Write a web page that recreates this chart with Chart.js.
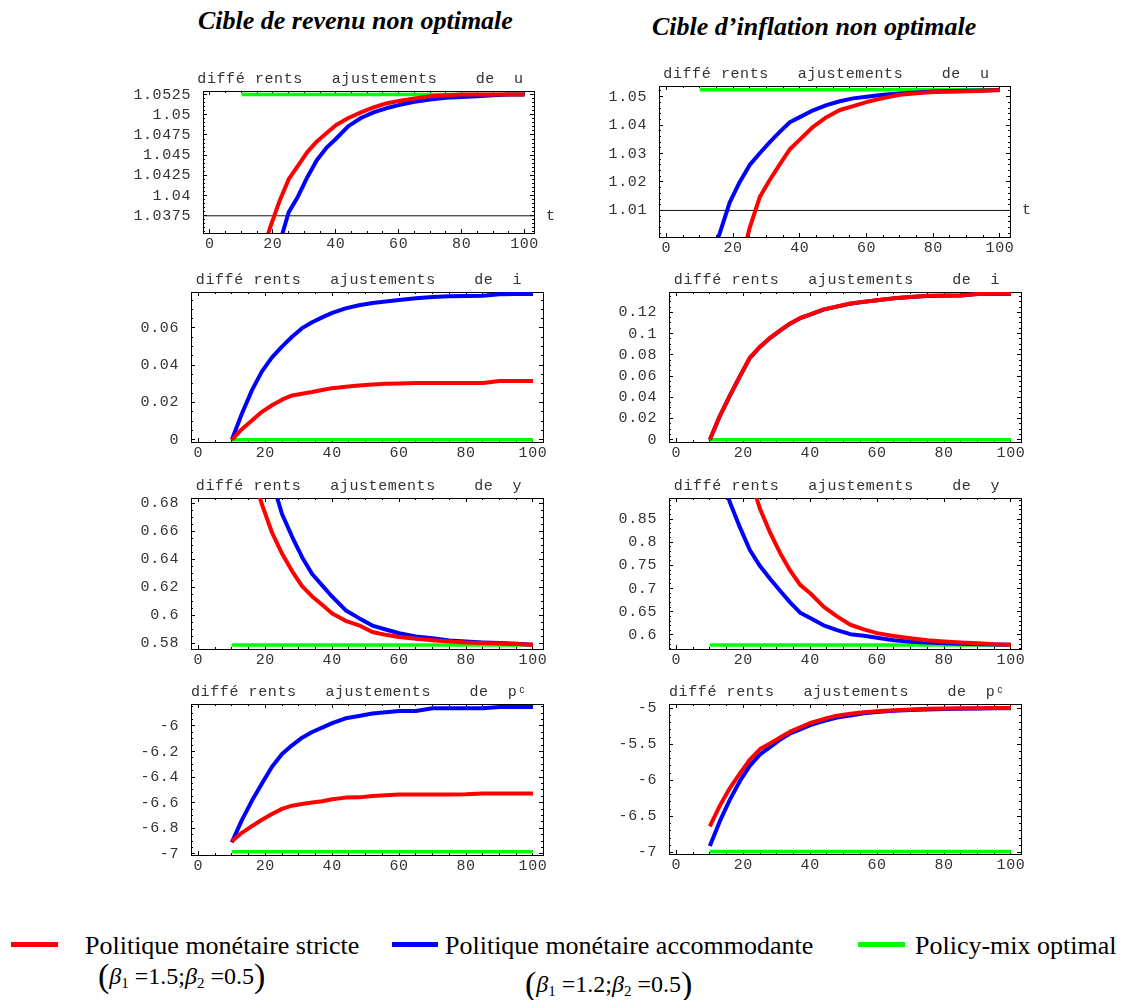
<!DOCTYPE html>
<html><head><meta charset="utf-8">
<script src="https://cdn.jsdelivr.net/npm/chart.js@4.4.0/dist/chart.umd.min.js"></script>
<style>
html,body{margin:0;padding:0;background:#fff;}
body{width:1128px;height:1000px;position:relative;overflow:hidden;}
canvas{position:absolute;}
.head{position:absolute;font:italic bold 26px "Liberation Serif",serif;white-space:nowrap;color:#000;line-height:1;}
.leg{position:absolute;font:26px "Liberation Serif",serif;white-space:nowrap;line-height:1;color:#000;}
.sw{position:absolute;height:5px;}
.beta{position:absolute;font:24px "Liberation Serif",serif;white-space:nowrap;line-height:1;color:#000;}
.beta .par{font-size:34px;vertical-align:-3px;}
.beta sub{font-size:15px;vertical-align:-4px;}
</style></head><body>
<div class="head" style="left:198px;top:8px">Cible de revenu non optimale</div>
<div class="head" style="left:652px;top:14px">Cible d’inflation non optimale</div>

<div class="sw" style="left:11px;top:942px;width:47px;background:#ff0000"></div>
<div class="leg" style="left:85px;top:933px">Politique monétaire stricte</div>
<div class="beta" style="left:98px;top:959px"><span class="par">(</span><i>β</i><sub>1</sub> =1.5;<i>β</i><sub>2</sub> =0.5<span class="par">)</span></div>

<div class="sw" style="left:392px;top:942px;width:46px;background:#0000ff"></div>
<div class="leg" style="left:445px;top:933px">Politique monétaire accommodante</div>
<div class="beta" style="left:525px;top:967px"><span class="par">(</span><i>β</i><sub>1</sub> =1.2;<i>β</i><sub>2</sub> =0.5<span class="par">)</span></div>

<div class="sw" style="left:858px;top:942px;width:47px;background:#00ff00"></div>
<div class="leg" style="left:915px;top:933px">Policy-mix optimal</div>

<script>
// ---------- DATA ----------
const t = [10,13,16,19,22,25,28,31,34,37,40,44,48,52,56,60,65,70,75,80,85,90,95,100];
const xTicks = [0,20,40,60,80,100];
const optT = [10,100];

// Cible de revenu non optimale (left column)
const u_rev_strict = [1.021,1.027,1.032,1.0359,1.0392,1.0420,1.0437,1.0454,1.0467,1.0477,1.0487,1.0496,1.0503,1.0509,1.0514,1.0517,1.0520,1.0523,1.0524,1.0525,1.0525,1.0525,1.0525,1.0525];
const u_rev_accom  = [1.012,1.018,1.024,1.029,1.0339,1.0379,1.0399,1.0423,1.0444,1.0459,1.0470,1.0486,1.0496,1.0503,1.0508,1.0512,1.0516,1.0519,1.0521,1.0522,1.0523,1.0524,1.0525,1.0525];
const u_rev_opt    = [1.0525,1.0525];
const u_rev_ticks  = [1.0375,1.04,1.0425,1.045,1.0475,1.05,1.0525];
const u_rev_axis   = 1.0375;

const i_rev_strict = [0,0.0057,0.0104,0.0150,0.0185,0.0215,0.0238,0.0247,0.0256,0.0267,0.0277,0.0284,0.0291,0.0296,0.0301,0.0302,0.0304,0.0304,0.0304,0.0304,0.0305,0.0315,0.0315,0.0315];
const i_rev_accom  = [0,0.014,0.0265,0.0367,0.0442,0.0500,0.0553,0.0599,0.0631,0.0657,0.0681,0.0705,0.0722,0.0734,0.0742,0.0750,0.0760,0.0766,0.0770,0.0771,0.0773,0.0781,0.0782,0.0782];
const i_rev_opt    = [0,0];
const i_rev_ticks  = [0,0.02,0.04,0.06];

const y_rev_strict = [0.78,0.735,0.703,0.679,0.659,0.644,0.6315,0.6207,0.6134,0.6074,0.6012,0.5960,0.5928,0.5880,0.5860,0.5844,0.5832,0.5822,0.5813,0.5806,0.5802,0.5798,0.5794,0.5790];
const y_rev_accom  = [0.84,0.795,0.755,0.722,0.696,0.6722,0.6561,0.6414,0.6294,0.6213,0.6132,0.6036,0.5979,0.5926,0.5898,0.5871,0.5849,0.5835,0.5820,0.5812,0.5806,0.5802,0.5796,0.5790];
const y_rev_opt    = [0.5788,0.5788];
const y_rev_ticks  = [0.58,0.6,0.62,0.64,0.66,0.68];

const pc_rev_strict = [-6.90,-6.835,-6.783,-6.733,-6.688,-6.648,-6.623,-6.610,-6.598,-6.588,-6.573,-6.560,-6.558,-6.547,-6.542,-6.535,-6.535,-6.535,-6.535,-6.534,-6.527,-6.527,-6.527,-6.527];
const pc_rev_accom  = [-6.91,-6.736,-6.585,-6.449,-6.319,-6.219,-6.151,-6.091,-6.047,-6.013,-5.978,-5.940,-5.922,-5.903,-5.892,-5.883,-5.882,-5.862,-5.861,-5.861,-5.861,-5.851,-5.851,-5.851];
const pc_rev_opt    = [-6.984,-6.984];
const pc_rev_ticks  = [-7,-6.8,-6.6,-6.4,-6.2,-6];

// Cible d'inflation non optimale (right column)
const u_inf_strict = [0.95,0.96,0.97,0.98,0.99,1.004,1.0147,1.0207,1.0262,1.0315,1.0349,1.0394,1.0428,1.0453,1.0467,1.0481,1.0495,1.0507,1.0512,1.0516,1.0517,1.0519,1.0521,1.0523];
const u_inf_accom  = [0.985,0.993,1.0019,1.0128,1.0200,1.026,1.0301,1.034,1.0376,1.0410,1.0428,1.0452,1.0470,1.0484,1.0494,1.0500,1.0507,1.0511,1.0515,1.0518,1.0520,1.0521,1.0522,1.0523];
const u_inf_opt    = [1.0524,1.0524];
const u_inf_ticks  = [1.01,1.02,1.03,1.04,1.05];
const u_inf_axis   = 1.01;

const i_inf_strict = [0,0.0225,0.0417,0.0600,0.0774,0.0877,0.0960,0.1030,0.1095,0.1147,0.1180,0.1228,0.1255,0.1283,0.1300,0.1315,0.1333,0.1345,0.1356,0.1358,0.1360,0.1374,0.1375,0.1375];
const i_inf_accom  = [0,0.0222,0.0414,0.0597,0.0771,0.0874,0.0958,0.1028,0.1093,0.1145,0.1178,0.1226,0.1254,0.1282,0.1299,0.1314,0.1332,0.1344,0.1355,0.1357,0.1359,0.1373,0.1374,0.1374];
const i_inf_opt    = [0,0];
const i_inf_ticks  = [0,0.02,0.04,0.06,0.08,0.1,0.12];

const y_inf_strict = [1.2,1.12,1.05,0.99,0.94,0.872,0.821,0.777,0.739,0.708,0.690,0.661,0.640,0.622,0.612,0.604,0.5976,0.5928,0.5885,0.5859,0.5837,0.5820,0.5800,0.5788];
const y_inf_accom  = [1.02,0.955,0.886,0.832,0.7826,0.7486,0.7212,0.6953,0.6703,0.6481,0.6364,0.6209,0.6105,0.6017,0.5981,0.5941,0.5887,0.5855,0.5835,0.5822,0.5812,0.5802,0.5795,0.5788];
const y_inf_opt    = [0.5784,0.5784];
const y_inf_ticks  = [0.6,0.65,0.7,0.75,0.8,0.85];

const pc_inf_strict = [-6.64,-6.352,-6.107,-5.902,-5.711,-5.566,-5.489,-5.405,-5.324,-5.264,-5.204,-5.149,-5.102,-5.075,-5.055,-5.040,-5.026,-5.015,-5.007,-5.003,-5.000,-4.998,-4.997,-4.996];
const pc_inf_accom  = [-6.91,-6.567,-6.268,-6.008,-5.796,-5.640,-5.538,-5.435,-5.349,-5.292,-5.234,-5.178,-5.128,-5.099,-5.070,-5.052,-5.035,-5.024,-5.016,-5.010,-5.005,-5.002,-5.000,-4.998];
const pc_inf_opt    = [-6.986,-6.986];
const pc_inf_ticks  = [-7,-6.5,-6,-5.5,-5];

// ---------- LAYOUT / STYLE ----------
const TITLE_TXT = 'diffé rents   ajustements    de  ';
const XMIN = -2.2, XMAX = 103;
const YW = 100, RP = 40, TH = 30, XH = 28;
const MONO = '"Liberation Mono","DejaVu Sans Mono",monospace';
const FONT = {family: MONO, size: 15, lineHeight: 1, weight: 'normal'};
const RED = '#ff0000', BLUE = '#0000ff', GREEN = '#00ff00';
const TXT = '#333';

const panels = [
  {frame:[203,91,534,233],  unit:'u',  s:u_rev_strict,  a:u_rev_accom,  o:u_rev_opt,  ticks:u_rev_ticks,  range:[1.03537,1.05294], minor:0.0005, axis:u_rev_axis},
  {frame:[659,86,1010,237], unit:'u',  s:u_inf_strict,  a:u_inf_accom,  o:u_inf_opt,  ticks:u_inf_ticks,  range:[1.00066,1.05375], minor:0.002,  axis:u_inf_axis},
  {frame:[191,292,543,442], unit:'i',  s:i_rev_strict,  a:i_rev_accom,  o:i_rev_opt,  ticks:i_rev_ticks,  range:[-0.0012,0.0793],  minor:0.005},
  {frame:[669,292,1021,442],unit:'i',  s:i_inf_strict,  a:i_inf_accom,  o:i_inf_opt,  ticks:i_inf_ticks,  range:[-0.0022,0.1392],  minor:0.005},
  {frame:[191,498,543,649], unit:'y',  s:y_rev_strict,  a:y_rev_accom,  o:y_rev_opt,  ticks:y_rev_ticks,  range:[0.5759,0.6836],   minor:0.005},
  {frame:[669,498,1021,649],unit:'y',  s:y_inf_strict,  a:y_inf_accom,  o:y_inf_opt,  ticks:y_inf_ticks,  range:[0.5697,0.8954],   minor:0.01},
  {frame:[191,704,543,855], unit:'pᶜ', s:pc_rev_strict, a:pc_rev_accom, o:pc_rev_opt, ticks:pc_rev_ticks, range:[-7.0086,-5.828],  minor:0.05},
  {frame:[669,704,1021,854],unit:'pᶜ', s:pc_inf_strict, a:pc_inf_accom, o:pc_inf_opt, ticks:pc_inf_ticks, range:[-7.022,-4.94],    minor:0.1}
];

function fixSize(prop, val){
  return function(s){ s[prop] = val; s.paddingLeft = 0; s.paddingRight = 0; s.paddingTop = 0; s.paddingBottom = 0; };
}
function setTicks(vals){ return function(s){ s.ticks = vals.map(v => ({value: v})); }; }
function minorVals(min, max, step){
  const out = [];
  for (let k = Math.ceil(min/step - 1e-9); k*step <= max + 1e-12; k++) out.push(+(k*step).toFixed(10));
  return out;
}
function tickAxis(axis, position, min, max, vals, len, border){
  return {
    type:'linear', axis, position, min, max, weight:-1,
    afterBuildTicks: setTicks(vals),
    afterFit: fixSize(axis === 'x' ? 'height' : 'width', 0),
    ticks:{display:false},
    grid:{display:true, drawOnChartArea:false, drawTicks:true, tickLength:-len, color:'#000', lineWidth:1},
    border:{display:border, color:'#000', width:1}
  };
}

const spacingPlugin = {id:'spacing', beforeDraw(chart){ chart.ctx.letterSpacing = '0.6px'; }};
const titleShift = {id:'titleShift', afterLayout(chart){ const tb = chart.titleBlock; if (tb){ tb.left -= 8; tb.right -= 8; } }};
const tLabel = {id:'tLabel', afterDraw(chart){
  const v = chart.options.plugins.tLabel && chart.options.plugins.tLabel.value;
  if (v == null) return;
  const ctx = chart.ctx, y = chart.scales.y.getPixelForValue(v);
  ctx.save();
  ctx.font = '15px ' + MONO; ctx.fillStyle = TXT;
  ctx.textAlign = 'left'; ctx.textBaseline = 'middle';
  ctx.fillText('t', chart.chartArea.right + 12, y);
  ctx.restore();
}};

const lineDs = (label, xs, ys, color, width, order) => ({
  label, data: xs.map((x, i) => ({x, y: ys[i]})),
  borderColor: color, backgroundColor: color, borderWidth: width, order,
  pointRadius: 0, fill: false, tension: 0, clip: 0,
  borderJoinStyle: 'round', borderCapStyle: 'butt', xAxisID: 'x', yAxisID: 'y'
});

panels.forEach(p => {
  const [L, T, R, B] = p.frame;
  const W = (R - L) + YW + RP, H = (B - T) + TH + XH;
  const c = document.createElement('canvas');
  c.width = W; c.height = H;
  c.style.left = (L - YW) + 'px'; c.style.top = (T - TH) + 'px';
  c.style.width = W + 'px'; c.style.height = H + 'px';
  document.body.appendChild(c);
  const [ymin, ymax] = p.range;

  const datasets = [
    lineDs('Policy-mix optimal', optT, p.o, GREEN, 3.5, 2),
    lineDs('Politique monétaire accommodante', t, p.a, BLUE, 4, 1),
    lineDs('Politique monétaire stricte', t, p.s, RED, 4, 0)
  ];
  if (p.axis != null) datasets.push(lineDs('axe', [XMIN, XMAX], [p.axis, p.axis], '#111', 1, 3));

  new Chart(c, {
    type: 'line',
    data: {datasets},
    plugins: [spacingPlugin, titleShift, tLabel],
    options: {
      responsive: false, animation: false, devicePixelRatio: 1, events: [],
      layout: {padding: {left: 0, right: RP, top: 0, bottom: 0}},
      plugins: {
        legend: {display: false}, tooltip: {enabled: false},
        title: {display: true, text: TITLE_TXT + p.unit, align: 'center', fullSize: false,
                font: FONT, color: TXT, padding: {top: 11, bottom: 4}},
        tLabel: {value: p.axis}
      },
      scales: {
        x: {type:'linear', position:'bottom', min:XMIN, max:XMAX, weight:0,
            afterBuildTicks: setTicks(xTicks), afterFit: fixSize('height', XH),
            ticks:{font:FONT, color:TXT, padding:4, autoSkip:false, maxRotation:0, callback: v => String(v)},
            grid:{display:false, drawTicks:false}, border:{display:true, color:'#000', width:1}},
        y: {type:'linear', position:'left', min:ymin, max:ymax, weight:0,
            afterBuildTicks: setTicks(p.ticks), afterFit: fixSize('width', YW),
            ticks:{font:FONT, color:TXT, padding:12, autoSkip:false, callback: v => String(v)},
            grid:{display:false, drawTicks:false}, border:{display:true, color:'#000', width:1}},
        xb:  tickAxis('x', 'bottom', XMIN, XMAX, xTicks, 4, false),
        xbm: tickAxis('x', 'bottom', XMIN, XMAX, minorVals(XMIN, XMAX, 5), 2, false),
        xt:  tickAxis('x', 'top', XMIN, XMAX, xTicks, 4, true),
        xtm: tickAxis('x', 'top', XMIN, XMAX, minorVals(XMIN, XMAX, 5), 2, false),
        yl:  tickAxis('y', 'left', ymin, ymax, p.ticks, 4, false),
        ylm: tickAxis('y', 'left', ymin, ymax, minorVals(ymin, ymax, p.minor), 2, false),
        yr:  tickAxis('y', 'right', ymin, ymax, p.ticks, 4, true),
        yrm: tickAxis('y', 'right', ymin, ymax, minorVals(ymin, ymax, p.minor), 2, false)
      }
    }
  });
});
</script>
</body></html>
